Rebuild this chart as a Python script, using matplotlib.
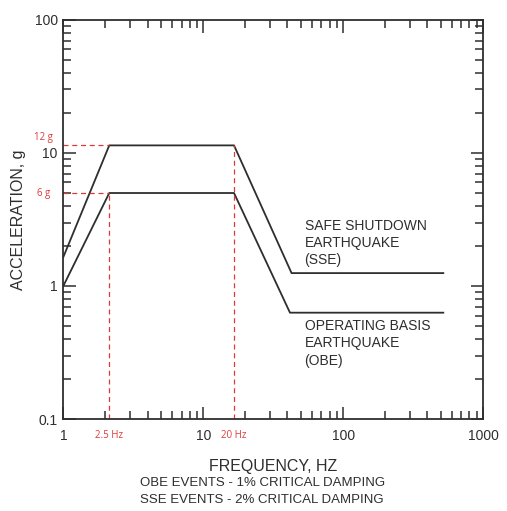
import matplotlib
matplotlib.use("Agg")
import matplotlib.pyplot as plt
from matplotlib.ticker import FixedLocator, FixedFormatter, LogLocator, NullFormatter

plt.rcParams['font.family'] = ['Liberation Sans', 'DejaVu Sans']

# response spectra (frequency in Hz, acceleration in g)
sse_freq = [1, 2.13, 16.6, 42.8, 520]
sse_acc = [1.65, 11.4, 11.4, 1.25, 1.25]
obe_freq = [1, 2.13, 16.6, 41.7, 520]
obe_acc = [1.0, 5.0, 5.0, 0.63, 0.63]

# red marker annotations
mark_freq = [2.13, 16.6]
mark_freq_labels = ['2.5 Hz', '20 Hz']
mark_acc = [11.4, 5.0]
mark_acc_labels = ['12 g', '6 g']

major_ticks_x = [1, 10, 100, 1000]
major_labels_x = ['1', '10', '100', '1000']
major_ticks_y = [0.1, 1, 10, 100]
major_labels_y = ['0.1', '1', '10', '100']

ink = '#2e2e2e'
red = '#e0393b'
dash = (0, (4, 3))

fig = plt.figure(figsize=(5.07, 5.11), dpi=100)
ax = fig.add_axes([0.1249, 0.180, 0.8278, 0.781])

ax.plot(sse_freq, sse_acc, color=ink, lw=1.3)
ax.plot(obe_freq, obe_acc, color=ink, lw=1.3)

ax.set_xscale('log')
ax.set_yscale('log')
ax.set_xlim(1, 1000)
ax.set_ylim(0.1, 100)

# dashed guides to the corner points
ax.plot([1, mark_freq[0]], [mark_acc[0], mark_acc[0]], ls=dash, color=red, lw=0.9)
ax.plot([1, mark_freq[0]], [mark_acc[1], mark_acc[1]], ls=dash, color=red, lw=0.9)
ax.plot([mark_freq[0], mark_freq[0]], [0.1, mark_acc[1]], ls=dash, color=red, lw=0.9)
ax.plot([mark_freq[1], mark_freq[1]], [0.1, mark_acc[0]], ls=dash, color=red, lw=0.9)

small = dict(color=red, fontsize=7, family=['Open Sans', 'DejaVu Sans'],
             ha='center', va='center', textcoords='offset points', annotation_clip=False)
for f, lab in zip(mark_freq, mark_freq_labels):
    ax.annotate(lab, xy=(f, 0.1), xytext=(0, -12), **small)
ax.annotate(mark_acc_labels[0], xy=(1, mark_acc[0]), xytext=(-14, 6), **small)
ax.annotate(mark_acc_labels[1], xy=(1, mark_acc[1]), xytext=(-14, 0), **small)

ax.text(53, 3.2, 'SAFE SHUTDOWN\nEARTHQUAKE\n(SSE)', fontsize=10, color=ink,
        ha='left', va='top', linespacing=1.3)
ax.text(53, 0.565, 'OPERATING BASIS\nEARTHQUAKE\n(OBE)', fontsize=10, color=ink,
        ha='left', va='top', linespacing=1.3)

ax.xaxis.set_major_locator(FixedLocator(major_ticks_x))
ax.xaxis.set_major_formatter(FixedFormatter(major_labels_x))
ax.yaxis.set_major_locator(FixedLocator(major_ticks_y))
ax.yaxis.set_major_formatter(FixedFormatter(major_labels_y))
ax.xaxis.set_minor_locator(LogLocator(base=10, subs=range(2, 10)))
ax.yaxis.set_minor_locator(LogLocator(base=10, subs=range(2, 10)))
ax.xaxis.set_minor_formatter(NullFormatter())
ax.yaxis.set_minor_formatter(NullFormatter())

ax.tick_params(which='both', direction='in', top=True, right=True, color=ink, width=1.1)
ax.tick_params(which='major', length=9, labelsize=10, labelcolor=ink)
ax.tick_params(which='minor', length=5.5)
ax.tick_params(axis='x', pad=7)
ax.tick_params(axis='y', pad=4)
for s in ax.spines.values():
    s.set_color(ink)
    s.set_linewidth(1.3)

ax.set_ylabel('ACCELERATION, g', fontsize=11.5, color=ink, labelpad=6)
ax.set_xlabel('FREQUENCY, HZ', fontsize=11.5, color=ink, labelpad=12)

fig.text(0.517, 0.054, 'OBE EVENTS - 1% CRITICAL DAMPING', ha='center', va='center',
         fontsize=9.5, color=ink)
fig.text(0.517, 0.021, 'SSE EVENTS - 2% CRITICAL DAMPING', ha='center', va='center',
         fontsize=9.5, color=ink)

fig.savefig('out.png', dpi=100)
